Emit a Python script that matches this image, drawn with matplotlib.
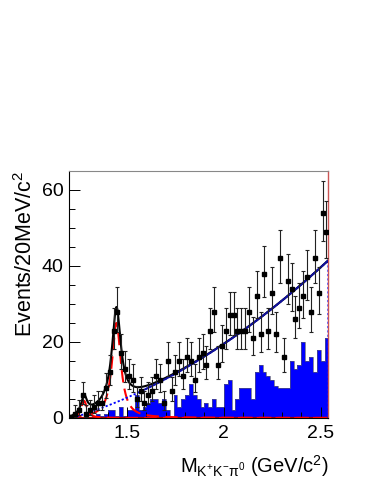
import numpy as np
import matplotlib
matplotlib.use('Agg')
import matplotlib.pyplot as plt
from matplotlib.ticker import MultipleLocator, FormatStrFormatter

"""
  K+K-pi0 invariant mass spectrum with fit
"""
plt.rcParams['font.family'] = ['Liberation Sans', 'DejaVu Sans']
plt.rcParams['mathtext.fontset'] = 'custom'
plt.rcParams['mathtext.rm'] = 'Liberation Sans'
plt.rcParams['mathtext.it'] = 'Liberation Sans:italic'

# binning: 20 MeV bins from 1.20 to 2.54 GeV/c^2
x_lo, x_hi, bin_w = 1.20, 2.54, 0.02
edges = np.round(np.arange(x_lo, x_hi + bin_w / 2, bin_w), 4)
centers = edges[:-1] + bin_w / 2

# data counts per bin
data = [0, 1, 2, 6, 1, 2, 3, 4, 4, 8,
        12, 23, 28, 17, 13, 11, 10, 5, 7, 4,
        6, 7, 11, 10, 4, 15, 7, 12, 15, 11,
        16, 15, 10, 16, 17, 14, 23, 28, 14, 19,
        23, 27, 27, 23, 23, 23, 28, 21, 32, 22,
        38, 23, 33, 22, 42, 16, 36, 34, 26, 29,
        32, 37, 28, 42, 33, 54, 49]

# background histogram (sideband estimate)
bkg_hist = [0, 0, 0, 0, 0, 0, 0.5, 1, 0.5, 1,
            2, 2, 0.5, 3, 0.5, 2, 2, 6, 2, 3,
            4, 5, 5, 4, 5, 2, 0, 6, 3, 5,
            6, 9, 6, 5, 3, 4, 3, 5, 3, 3,
            9, 10, 2, 5, 8, 8, 8, 5, 12, 14,
            12, 11, 10, 8.5, 8, 8, 8, 15, 13, 14,
            20, 15, 16, 12, 18, 15, 21]

# fit results: two Breit-Wigner peaks on a quadratic background
peak_mass = [1.278, 1.445]
peak_width = [0.035, 0.055]
peak_height = [4.5, 25.0]
bkg_ref = 1.55
bkg_coef = [6.5, 23.5, 11.97]
bkg_start = 1.22
line_start = 1.565

data = np.array(data, dtype=float)
bkg_hist = np.array(bkg_hist, dtype=float)


def bw(x, m, g, a):
    return a * (g / 2) ** 2 / ((x - m) ** 2 + (g / 2) ** 2)


def bkg(x):
    u = x - bkg_ref
    return np.clip(bkg_coef[0] + bkg_coef[1] * u + bkg_coef[2] * u ** 2, 0, None)


xs = np.linspace(x_lo, x_hi, 800)
sig1 = bw(xs, peak_mass[0], peak_width[0], peak_height[0])
sig2 = bw(xs, peak_mass[1], peak_width[1], peak_height[1])
bb = bkg(xs)
total = bb + sig1 + sig2

# Gehrels approximate Poisson errors
err_up = np.where(data > 0, 1 + np.sqrt(data + 0.75), 0)
err_lo = np.where(data > 0, np.sqrt(np.clip(data - 0.25, 0, None)), 0)

fig = plt.figure(figsize=(3.74, 4.84), dpi=100)
ax = fig.add_axes([0.1845, 0.1364, 0.6935, 0.5103])

ax.stairs(bkg_hist, edges, fill=True, color='#0000ff', zorder=1)
ax.stairs(bkg_hist, edges, color='#555577', lw=0.5, zorder=1.1)

ax.axhline(0, color='#aa0000', lw=1.6, zorder=2)

ax.plot(xs, sig1, color='#ff0000', lw=1.5, ls=(0, (6, 3)), zorder=3)
ax.plot(xs, sig2, color='#ff0000', lw=1.5, ls=(0, (6, 3)), zorder=3)

m = xs >= bkg_start
ax.plot(np.append(xs[m], x_hi), np.append(bb[m], 0), color='#0000ff', lw=1.3,
        ls=(0, (1.2, 1.2)), zorder=3)

ax.plot(xs, total, color='black', lw=1.5, zorder=4)
m2 = xs >= line_start
ax.plot(xs[m2], bb[m2], color='#1010a0', lw=1.4, zorder=5)

ax.errorbar(centers, data, yerr=[err_lo, err_up], fmt='s', color='black',
            ms=3.0, elinewidth=0.8, ecolor='#222222', capsize=1.5, capthick=0.8,
            zorder=6)

ax.set_xlim(x_lo, x_hi)
ax.set_ylim(0, 65)

ax.xaxis.set_major_locator(MultipleLocator(0.5))
ax.xaxis.set_minor_locator(MultipleLocator(0.1))
ax.xaxis.set_major_formatter(FormatStrFormatter('%g'))
ax.yaxis.set_major_locator(MultipleLocator(20))
ax.yaxis.set_minor_locator(MultipleLocator(5))
ax.tick_params(which='both', direction='in', top=False, right=False, labelsize=14)
ax.tick_params(which='major', length=8, width=0.7)
ax.tick_params(which='minor', length=4, width=0.7)
ax.tick_params(axis='y', pad=4)
ax.tick_params(axis='x', pad=5)

for s in ['left', 'bottom']:
    ax.spines[s].set_color('black')
    ax.spines[s].set_linewidth(0.8)
ax.spines['top'].set_color('#888888')
ax.spines['top'].set_linewidth(0.8)
ax.spines['right'].set_color('#cc5555')
ax.spines['right'].set_linewidth(1.0)

ax.set_ylabel('Events/20MeV/c$^{2}$', fontsize=15.5, loc='top', labelpad=3)
ax.set_xlabel(r'M$_{\mathrm{K^{+}K^{-}\pi^{0}}}$ (GeV/c$^{2}$)', fontsize=14.5,
              loc='right', labelpad=8)

fig.savefig('out.png', dpi=100)
